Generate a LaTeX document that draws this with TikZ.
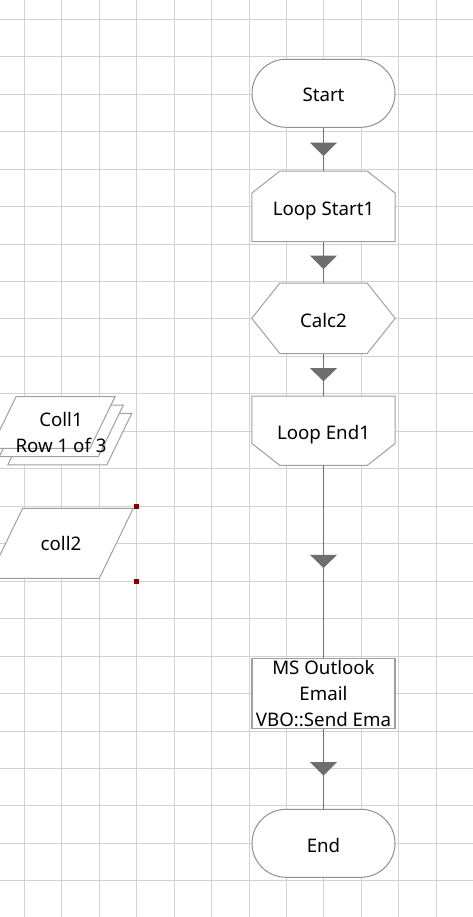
\documentclass[tikz,border=0pt]{standalone}
\usepackage{fontspec}
\setmainfont{Noto Sans}
\usetikzlibrary{backgrounds}
\definecolor{gridgray}{HTML}{D2D2D2}
\definecolor{edgegray}{HTML}{A0A0A0}
\definecolor{flowgray}{HTML}{6E6E6E}
\definecolor{handlered}{HTML}{800000}
\tikzset{
  gridline/.style={draw=gridgray, line width=1pt},
  box/.style={minimum width=143pt, minimum height=70pt, inner sep=0pt, align=center},
  oneline/.style={text height=20.6pt, text depth=3.2pt},
  outline/.style={draw=edgegray, line width=1pt, fill=white},
  terminal/.style={box, oneline, outline, draw=edgegray!90!black, rounded corners=34pt, minimum height=68pt},
  flowline/.style={draw=flowgray, line width=1.3pt},
  tipfill/.style={fill=flowgray},
}
\begin{document}
\begin{tikzpicture}[x=1pt, y=-1pt, font=\fontsize{18.7}{26}\selectfont]
\useasboundingbox (0,0) rectangle (473,917);
\node[terminal] (start) at (323.5,93.3) {Start};
\node[box, oneline] (loopstart) at (323.5,206.3) {Loop Start1};
\node[box, oneline] (calc) at (323.5,318.3) {Calc2};
\node[box, oneline, minimum height=69pt] (loopend) at (323.5,430.7) {Loop End1};
\node[box, outline, line width=1.5pt] (outlook) at (323.5,693.3) {MS Outlook\\Email\\VBO::Send Ema};
\node[terminal] (finish) at (323.5,843.3) {End};
\node[align=center, inner sep=0pt] (collone) at (61,432.5) {Coll1\\Row 1 of 3};
\node[inner sep=0pt, oneline] (colltwo) at (61,542) {coll2};
\begin{pgfonlayer}{background}
\foreach \x in {0,...,11}
  \draw[gridline] (24.3+37.46*\x,0) -- (24.3+37.46*\x,917);
\foreach \y in {0,...,23}
  \draw[gridline] (0,19.3+37.46*\y) -- (473,19.3+37.46*\y);
\draw[outline] (loopstart.south west) -- ([yshift=-22pt]loopstart.north west) -- ([xshift=28pt]loopstart.north west) -- ([xshift=-28pt]loopstart.north east) -- ([yshift=-22pt]loopstart.north east) -- (loopstart.south east) -- cycle;
\draw[outline] (calc.west) -- ([xshift=28pt]calc.north west) -- ([xshift=-28pt]calc.north east) -- (calc.east) -- ([xshift=-28pt]calc.south east) -- ([xshift=28pt]calc.south west) -- cycle;
\draw[outline] (loopend.north west) -- (loopend.north east) -- ([yshift=22pt]loopend.south east) -- ([xshift=-28pt]loopend.south east) -- ([xshift=28pt]loopend.south west) -- ([yshift=22pt]loopend.south west) -- cycle;
\foreach \k in {2,1,0}
  \draw[outline, shift={(8.4*\k,8.3*\k)}] (16,396.7) -- (115,396.7) -- (90,448.3) -- (-9,448.3) -- cycle;
\draw[outline] (22.7,508.3) -- (133.3,508.3) -- (99.3,578.3) -- (-11.3,578.3) -- cycle;
\end{pgfonlayer}
\foreach \a/\b in {start/loopstart, loopstart/calc, calc/loopend, loopend/outlook, outlook/finish} {
  \draw[flowline] (\a) -- coordinate[midway] (mid) (\b);
  \fill[tipfill] ([xshift=-13.5pt,yshift=6.7pt]mid) -- ([xshift=13.5pt,yshift=6.7pt]mid) -- ([yshift=-6.7pt]mid) -- cycle;
}
\fill[handlered] (134,504.2) rectangle (139,509.2);
\fill[handlered] (134,579.2) rectangle (139,584.2);
\end{tikzpicture}
\end{document}
